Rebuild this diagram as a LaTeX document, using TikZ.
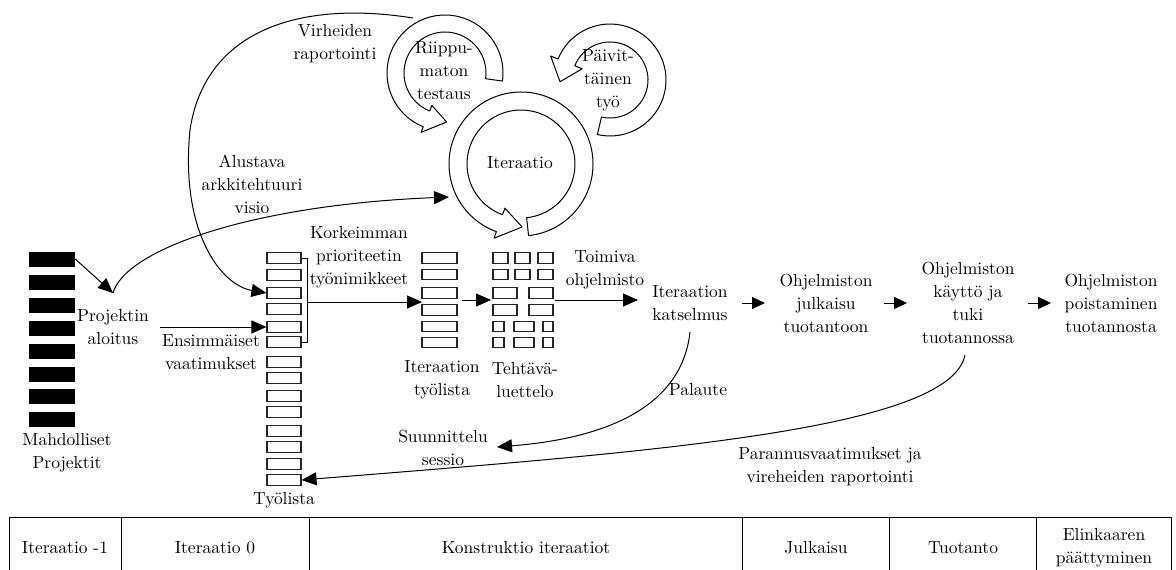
\documentclass[tikz,border=0pt]{standalone}
\usepackage{fontspec}
\setmainfont{lmroman10-regular.otf}
\usetikzlibrary{arrows.meta}

% circular arrow: centre (#1,#2), inner/outer radius #3/#4,
% arc from angle #5 to #6, tip at angle #7 on radius #8, barb overhang #9
\newcommand{\loopband}[9]{%
  \begin{scope}[shift={(#1,#2)}]
    \draw[band] (#5:#4) arc[start angle=#5, end angle=#6, radius=#4]
      -- (#6:{#4+#9}) -- (#7:#8) -- (#6:{#3-#9}) -- (#6:#3)
      arc[start angle=#6, end angle=#5, radius=#3] -- cycle;
  \end{scope}}

\begin{document}
\begin{tikzpicture}[x=1pt,y=1pt,
  lbl/.style={align=center,inner sep=0pt,font=\fontsize{17.5}{23}\selectfont},
  conn/.style={line width=1pt,-{Triangle[length=15pt,width=13pt]}},
  shortconn/.style={line width=1pt,-{Triangle[length=13pt,width=12pt]}},
  link/.style={line width=1pt},
  band/.style={fill=white,draw=black,line width=1pt,line join=round},
  wbox/.style={draw=black!85,line width=1.1pt,fill=white,minimum width=#1,
    minimum height=10.5pt,inner sep=0pt},
  bar/.style={fill=black,minimum width=46pt,minimum height=15pt,inner sep=0pt},
  cellline/.style={draw=black!85,line width=1.1pt},
  rule/.style={line width=1pt}]
\useasboundingbox (0,0) rectangle (1176,-570);

% ---- candidate projects
\foreach \i/\y in {1/259,2/282,3/305.5,4/328.5,5/351.5,6/374.5,7/396.5,8/419.5}
  \node[bar] (b\i) at (52,-\y) {};
\node[lbl] (mp) at (67,-452.5) {Mahdolliset\\Projektit};

% ---- project start
\node[lbl] (pa) at (113,-327) {Projektin\\aloitus};
\coordinate (pa-top) at (113,-293);
\draw[conn] (b1.east) -- (pa-top);

% ---- work item list
\foreach \i/\y in {1/258,2/275,3/293,4/309,5/327,6/342,7/362,8/378,9/396,10/412,11/431,12/447,13/464,14/480}
  \node[wbox=34pt] (tl\i) at (284,-\y) {};
\node[lbl] (tyl) at (284,-500) {Työlista};

\node[lbl] (ev) at (211,-352.5) {Ensimmäiset\\vaatimukset};
\coordinate (ev-start) at (160,-327);
\draw[conn] (ev-start) -- (tl5.west);

% ---- iteration backlog
\foreach \i/\y in {1/258,2/274.5,3/293,4/310,5/326.5,6/342.5}
  \node[wbox=35pt] (it\i) at (439.5,-\y) {};
\node[lbl] (itl) at (442,-380) {Iteraation\\työlista};

% bracket of the highest priority items
\coordinate (br-top) at (307,-258);
\coordinate (br-bot) at (307,-342);
\coordinate (br-mid) at (307,-302);
\coordinate (it-in) at (422,-302);
\draw[link] (tl1.east) -- (br-top) -- (br-bot) -- (tl6.east);
\draw[conn] (br-mid) -- (it-in);
\node[lbl] (kp) at (359,-257) {Korkeimman\\prioriteetin\\työnimikkeet};

% ---- task list grid
\foreach \y in {258,274.5}{
  \draw[cellline] (493,-\y+5.25) rectangle (508,-\y-5.25);
  \draw[cellline] (515,-\y+5.25) rectangle (530,-\y-5.25);
  \draw[cellline] (538,-\y+5.25) rectangle (553,-\y-5.25);}
\foreach \y in {293,310}{
  \draw[cellline] (493,-\y+5.25) rectangle (517,-\y-5.25);
  \draw[cellline] (529,-\y+5.25) rectangle (553,-\y-5.25);}
\foreach \y in {326.5,342.5}{
  \draw[cellline] (493,-\y+5.25) rectangle (504,-\y-5.25);
  \draw[cellline] (514,-\y+5.25) rectangle (534,-\y-5.25);
  \draw[cellline] (543,-\y+5.25) rectangle (553,-\y-5.25);}
\node[lbl] (tll) at (525,-380) {Tehtävä-\\luettelo};
\coordinate (it-out) at (462,-300);
\coordinate (tg-in) at (491,-300);
\coordinate (tg-out) at (555,-300);
\draw[conn] (it-out) -- (tg-in);

% ---- review and release chain
\node[lbl] (to) at (605,-269.5) {Toimiva\\ohjelmisto};
\node[lbl] (ik) at (690,-303) {Iteraation\\katselmus};
\coordinate (ik-in) at (638,-300);
\draw[conn] (tg-out) -- (ik-in);

\node[lbl] (oj) at (826,-303) {Ohjelmiston\\julkaisu\\tuotantoon};
\node[lbl] (ok) at (968,-302.5) {Ohjelmiston\\käyttö ja\\tuki\\tuotannossa};
\node[lbl] (op) at (1111,-303.5) {Ohjelmiston\\poistaminen\\tuotannosta};
\coordinate (a1s) at (742,-303); \coordinate (a1e) at (765,-303);
\coordinate (a2s) at (884,-303); \coordinate (a2e) at (907,-303);
\coordinate (a3s) at (1028,-303); \coordinate (a3e) at (1051,-303);
\draw[shortconn] (a1s) -- (a1e);
\draw[shortconn] (a2s) -- (a2e);
\draw[shortconn] (a3s) -- (a3e);

% ---- feedback loops
\node[lbl] (ss) at (443,-447.5) {Suunnittelu\\sessio};
\node[lbl] (pal) at (698,-390) {Palaute};
\coordinate (ik-bot) at (690,-332);
\coordinate (ss-in) at (497,-447);
\draw[conn] (ik-bot) .. controls (682,-405) and (610,-438) .. (ss-in);

\node[lbl] (pv) at (830,-466.5) {Parannusvaatimukset ja\\vireheiden raportointi};
\coordinate (ok-bot) at (965,-355);
\draw[conn] (ok-bot) .. controls (950,-430) and (650,-452) .. (tl14.east);

% ---- iteration cycle
\loopband{521}{-164}{54}{72}{-84}{250}{271}{63}{7}
\loopband{445}{-73}{41}{58}{-8}{248}{272}{49}{6}
\loopband{610}{-80}{38}{56}{-103}{158}{182}{50}{8}
\node[lbl] (ita) at (520,-163) {Iteraatio};
\node[lbl] (rt) at (444,-71) {Riippu-\\maton\\testaus};
\node[lbl] (pt) at (608,-80) {Päivit-\\täinen\\työ};

% architecture vision
\node[lbl] (av) at (252,-184) {Alustava\\arkkitehtuuri\\visio};
\coordinate (ita-in) at (449,-197);
\draw[conn] (pa-top) .. controls (125,-250) and (250,-205) .. (ita-in);

% defect reporting
\node[lbl] (vr) at (335,-44) {Virheiden\\raportointi};
\coordinate (rt-out) at (413,-18);
\coordinate (vr-bend) at (190,-130);
\draw[conn] (rt-out) .. controls (300,0) and (205,-30) .. (vr-bend)
  .. controls (180,-230) and (220,-285) .. (tl3.west);

% ---- phase table
\draw[rule] (9,-517) -- (1172,-517);
\foreach \x in {9,121.5,309,742.5,889.5,1036.5,1171.5}
  \draw[rule] (\x,-517) -- (\x,-570);
\node[lbl] (p1) at (65,-548) {Iteraatio -1};
\node[lbl] (p2) at (215,-548) {Iteraatio 0};
\node[lbl] (p3) at (526,-548) {Konstruktio iteraatiot};
\node[lbl] (p4) at (816,-548) {Julkaisu};
\node[lbl] (p5) at (963,-548) {Tuotanto};
\node[lbl] (p6) at (1104,-548) {Elinkaaren\\päättyminen};
\end{tikzpicture}
\end{document}
